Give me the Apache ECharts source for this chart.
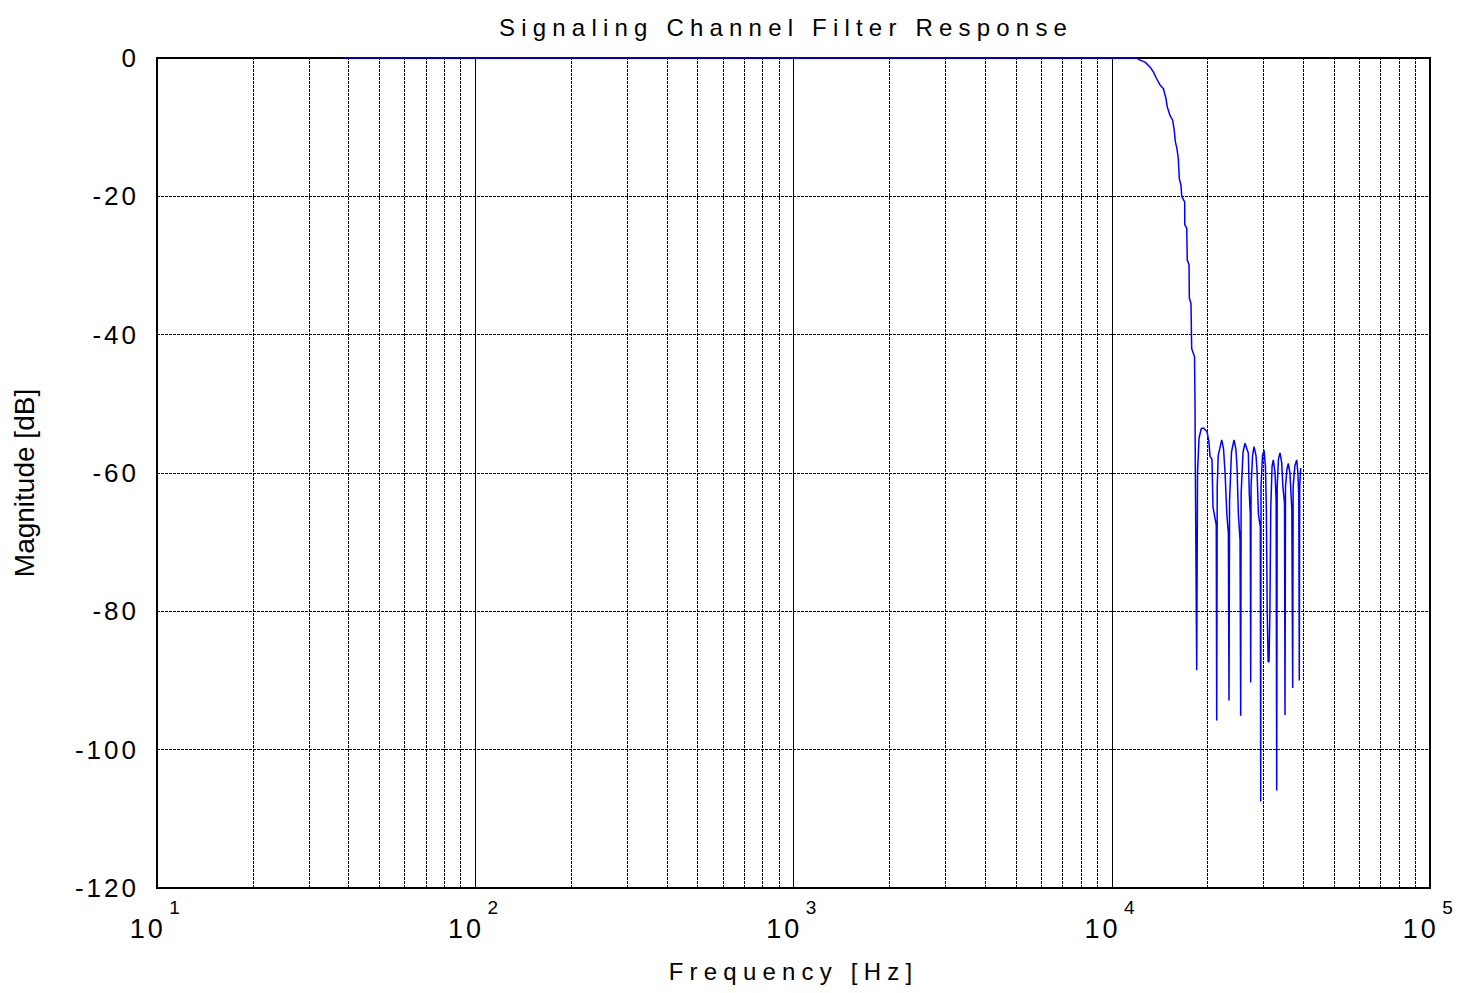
<!DOCTYPE html>
<html>
<head>
<meta charset="utf-8">
<title>Signaling Channel Filter Response</title>
<script src="https://cdn.jsdelivr.net/npm/echarts@6/dist/echarts.min.js"></script>
<style>
  html, body { margin: 0; padding: 0; background: #fff; }
  #chart { width: 1459px; height: 993px; }
  /* the original plot uses spaced-out lettering */
  #chart text { letter-spacing: 3px; }
  #chart text[style*="24px"] { letter-spacing: 6.2px; }
  #chart text[style*="28px"] { letter-spacing: 0; }
</style>
</head>
<body>
<div id="chart"></div>
<script>
// frequency axis [Hz] and magnitude [dB]
const freqHz = [
  38.5, 11980,
  12270, 12720, 13190, 13510, 13840, 14180, 14520, 14810, 14950, 15240,
  15540, 15720, 15840, 16030, 16190, 16300, 16500, 16590, 16710, 16950,
  16960, 17200, 17270, 17490, 17530, 17740, 17830, 18200, 18267, 18300,
  18490, 18600, 18800, 19100, 19400, 19920, 20200, 20360, 20650, 20800,
  21100, 21300, 21370, 21450, 21600, 22160, 22450, 22700, 23000, 23250,
  23360, 23450, 23780, 24220, 24550, 24750, 25000, 25300, 25420, 25500,
  25850, 26220, 26860, 27050, 27250, 27330, 27400, 27700, 27990, 28400,
  28600, 28900, 29300, 29380, 29450, 29760, 30090, 30400, 30600, 30800,
  31000, 31200, 31400, 31600, 31900, 32180, 32600, 32850, 32985, 33100,
  33400, 33780, 34200, 34500, 34900, 35030, 35150, 35500, 35870, 36300,
  36800, 37030, 37150, 37600, 38120, 38450, 38700, 38840, 38950, 39240
];
const magDb = [
  0, 0,
  -0.3, -0.6, -1.3, -2.0, -3.0, -3.9, -4.4, -5.9, -7.1, -8.3,
  -9.0, -10.5, -12.1, -13.1, -14.6, -17.4, -18.4, -19.9, -20.3, -20.8,
  -24.1, -24.6, -29.2, -29.9, -34.7, -35.5, -42.0, -43.2, -50.0, -58.0,
  -88.5, -60.0, -55.0, -53.6, -53.5, -54.0, -55.5, -57.6, -58.0, -64.9,
  -66.5, -67.5, -95.8, -62.0, -57.5, -55.2, -56.5, -60.0, -66.0, -68.7,
  -92.9, -64.0, -57.0, -55.2, -56.5, -59.1, -66.0, -69.7, -95.1, -63.0,
  -57.0, -55.7, -57.1, -63.0, -66.0, -90.3, -62.0, -57.5, -56.2, -57.5,
  -59.5, -66.0, -67.8, -107.5, -62.0, -57.5, -56.7, -59.0, -65.0, -80.0,
  -87.3, -87.3, -80.0, -65.0, -59.0, -58.1, -60.0, -64.0, -105.9, -62.0,
  -58.0, -57.1, -58.5, -62.0, -64.4, -95.0, -62.0, -59.5, -58.6, -60.0,
  -65.3, -91.1, -62.0, -59.0, -58.1, -60.0, -63.4, -90.0, -62.0, -59.3
];

// dotted minor grid lines of the log axis
const minorGrid = [
  20, 30, 40, 50, 60, 70, 80, 90,
  200, 300, 400, 500, 600, 700, 800, 900,
  2000, 3000, 4000, 5000, 6000, 7000, 8000, 9000,
  20000, 30000, 40000, 50000, 60000, 70000, 80000, 90000
];
const yTicks = [0, -20, -40, -60, -80, -100, -120];

const chart = echarts.init(document.getElementById('chart'), null, { renderer: 'svg' });

const font = 'Liberation Sans, Arial, Helvetica, sans-serif';

const option = {
  animation: false,
  backgroundColor: '#fff',
  title: {
    text: 'Signaling Channel Filter Response',
    left: 494,
    top: 10,
    textStyle: { fontFamily: font, fontSize: 24, fontWeight: 'normal', color: '#000' }
  },
  grid: {
    left: 157, right: 29, top: 58, bottom: 105,
    show: true, borderColor: '#000', borderWidth: 2, backgroundColor: 'transparent'
  },
  xAxis: {
    type: 'log',
    logBase: 10,
    min: 10,
    max: 100000,
    name: 'Frequency [Hz]',
    nameLocation: 'middle',
    nameGap: 71,
    nameTextStyle: { fontFamily: font, fontSize: 24, color: '#000' },
    axisLine: { show: false },
    axisTick: { show: false },
    splitLine: { show: true, lineStyle: { color: '#000', width: 1, type: 'solid' } },
    axisLabel: {
      margin: 10,
      color: '#000',
      formatter: v => '{b|10}{e|' + Math.round(Math.log10(v)) + '}',
      rich: {
        b: { fontFamily: font, fontSize: 27, color: '#000', lineHeight: 44, verticalAlign: 'bottom' },
        e: { fontFamily: font, fontSize: 19, color: '#000', lineHeight: 44, verticalAlign: 'top', padding: [0, 0, 0, 8] }
      }
    }
  },
  yAxis: {
    type: 'value',
    min: -120,
    max: 0,
    interval: 20,
    name: 'Magnitude [dB]',
    nameLocation: 'middle',
    nameRotate: 90,
    nameGap: 119,
    nameTextStyle: { fontFamily: font, fontSize: 28, color: '#000', padding: [0, 20, 0, 0] },
    axisLine: { show: false },
    axisTick: { show: false },
    axisLabel: {
      margin: 18,
      color: '#000',
      fontFamily: font,
      fontSize: 26,
      formatter: v => (yTicks.indexOf(v) >= 0 ? String(v) : '')
    },
    splitLine: { show: true, lineStyle: { color: '#000', width: 1, type: [3, 1] } }
  },
  series: [
    {
      // minor grid, kept under the curve
      type: 'line',
      data: [],
      z: 1,
      silent: true,
      markLine: {
        silent: true,
        symbol: ['none', 'none'],
        label: { show: false },
        lineStyle: { color: '#000', width: 1, type: [3, 1] },
        data: minorGrid.map(v => ({ xAxis: v }))
      }
    },
    {
      name: 'Magnitude',
      type: 'line',
      z: 5,
      showSymbol: false,
      data: freqHz.map((f, i) => [f, magDb[i]]),
      lineStyle: { color: '#0000ff', width: 1.5 },
      itemStyle: { color: '#0000ff' }
    }
  ]
};

chart.setOption(option);
window.addEventListener('resize', () => chart.resize());
</script>
</body>
</html>
